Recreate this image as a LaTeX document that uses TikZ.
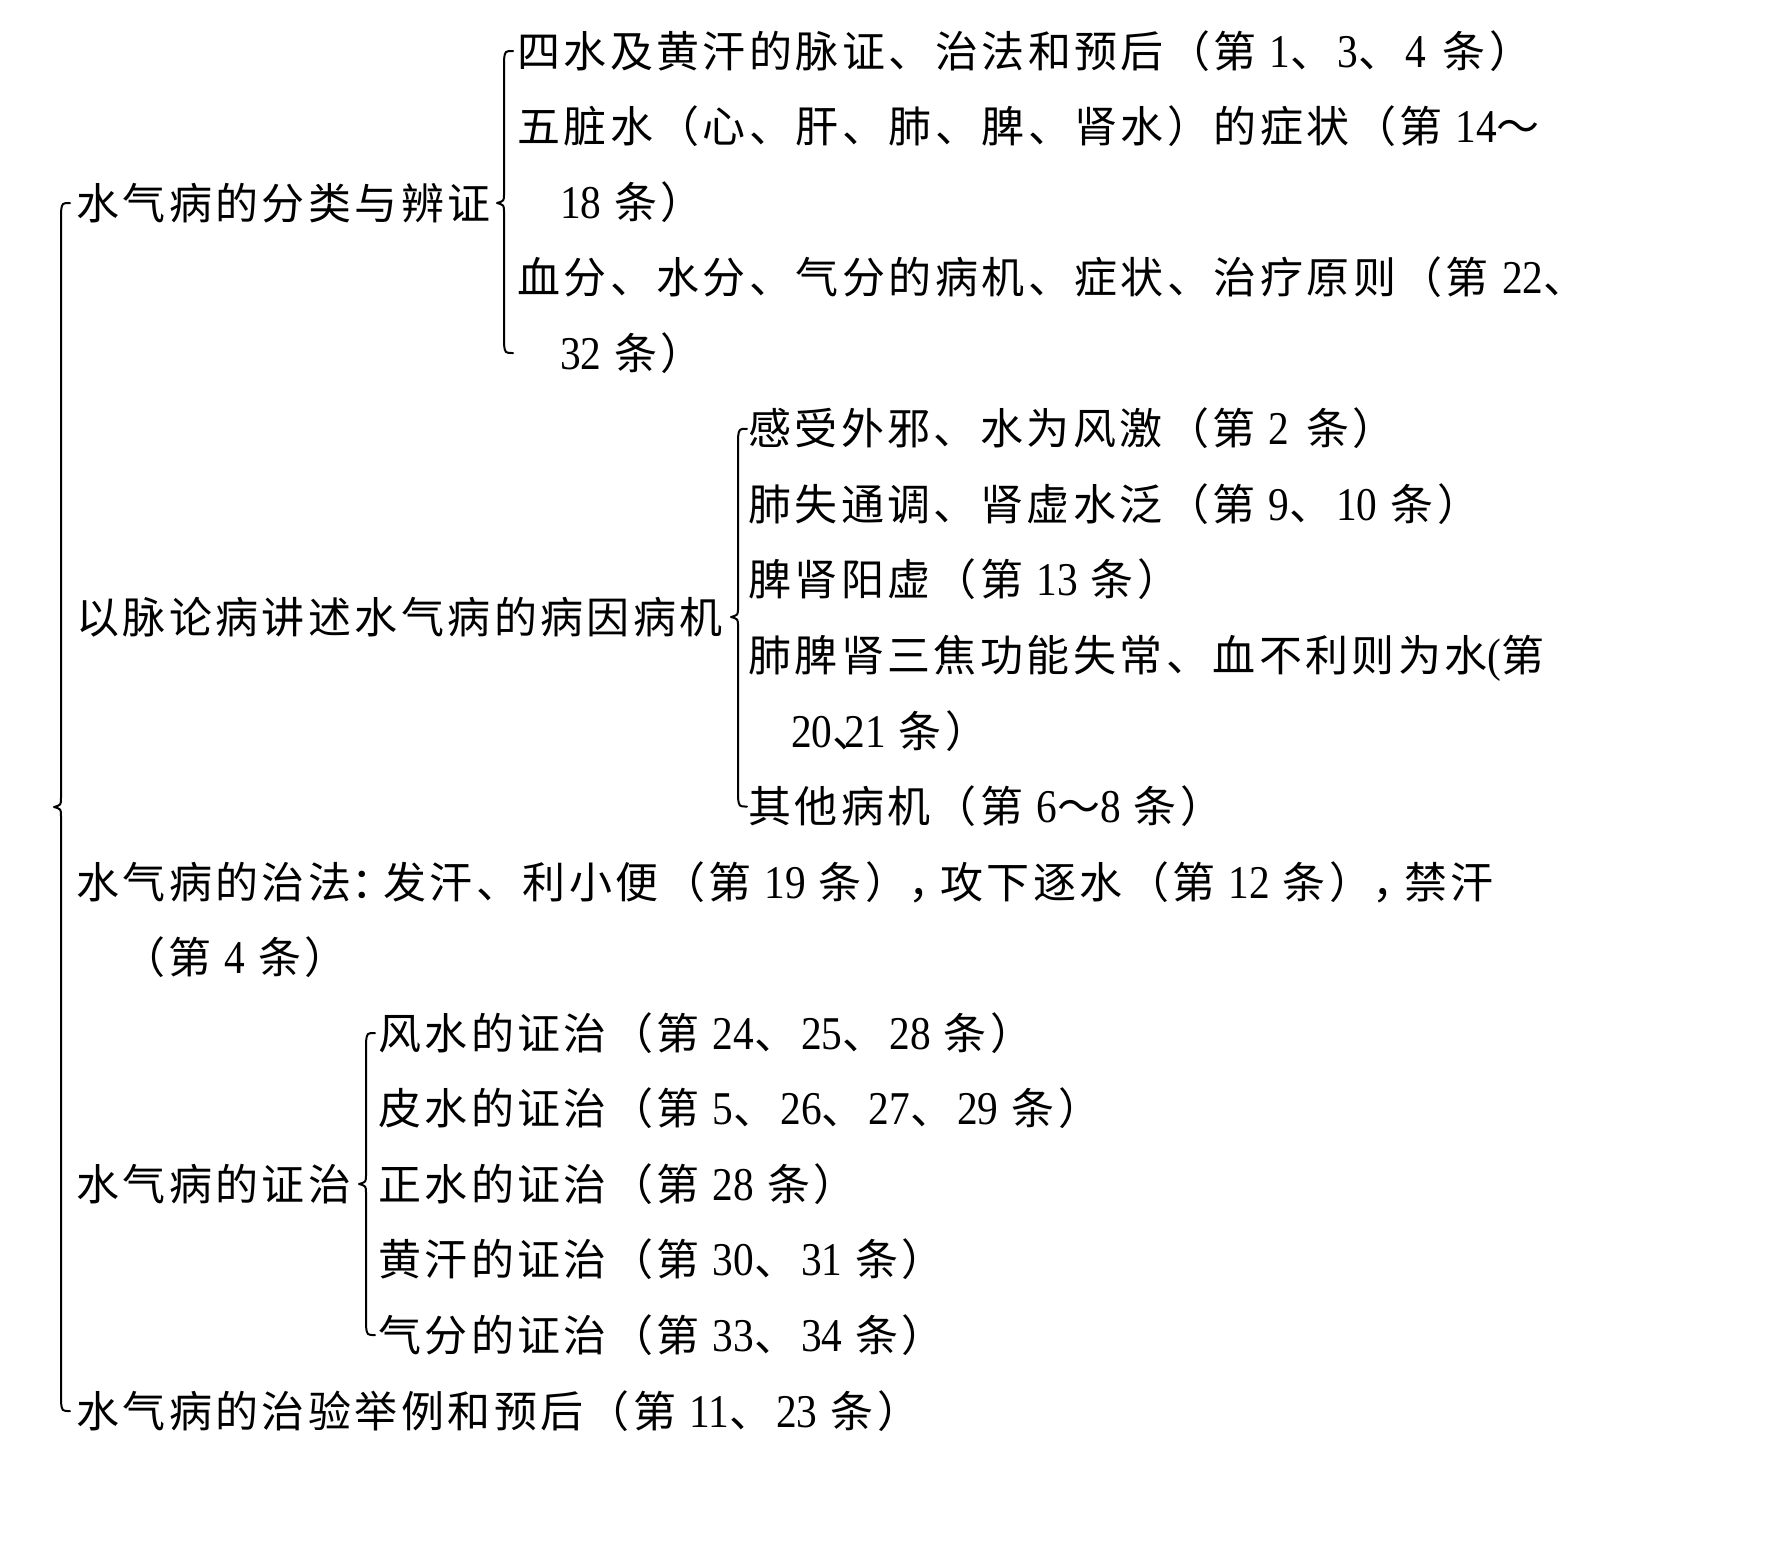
\documentclass[tikz,border=0pt]{standalone}
\usepackage{fontspec}
\newfontfamily\cjkfont[LetterSpace=8]{Noto Sans CJK SC}
\newfontfamily\digfont[FakeStretch=0.88]{Liberation Serif}
\newcommand\dnum[1]{{\digfont\fontsize{47}{48}\selectfont #1}}
\newcommand\gapa{\hspace{13pt}}
\newcommand\gapb{\hspace{13pt}}
\newcommand\gapc{\hspace{17pt}}
\newcommand\ds{、\hspace{4pt}}
\newcommand\hw[1]{\makebox[32pt][l]{#1}}
\usetikzlibrary{calc}
\tikzset{
  txt/.style={anchor=west, inner sep=0pt, text height=36pt, text depth=4pt,
    font=\cjkfont\fontsize{43}{48}\selectfont},
  bracestyle/.style={line width=2pt, line cap=round, line join=round}
}
\newcommand\curly[4]{%
\draw[bracestyle] let \p1=(#2.west), \p2=#3, \p3=(#4.west) in
 (\x1-#1+9,\y1) .. controls (\x1-#1+1,\y1) .. (\x1-#1,\y1-9)
 -- (\x1-#1,\y2+9) .. controls (\x1-#1,\y2+2) .. (\x1-#1-7,\y2)
 .. controls (\x1-#1,\y2-2) .. (\x1-#1,\y2-9)
 -- (\x1-#1,\y3+9) .. controls (\x1-#1+1,\y3) .. (\x1-#1+9,\y3);}
\begin{document}
\begin{tikzpicture}[x=1pt,y=-1pt]
\useasboundingbox[fill=white] (0,0) rectangle (1784,1548);
% level 1
\node[txt] (l1a) at (76,203) {水气病的分类与辨证};
\node[txt] (l1b) at (76,617) {以脉论病讲述水气病的病因病机};
\node[txt] (l1c) at (76,882) {水气病的治法\hw{：}发汗、利小便（第\gapa\dnum{19}\gapb 条）\hw{，}攻下逐水（第\gapa\dnum{12}\gapb 条）\hw{，}禁汗};
\node[txt] (l1c2) at (122,957.6) {（第\gapa\dnum{4}\gapb 条）};
\node[txt] (l1d) at (76,1184) {水气病的证治};
\node[txt] (l1e) at (76,1411) {水气病的治验举例和预后（第\gapa\dnum{11}\ds\dnum{23}\gapb 条）};
% branch 1
\node[txt] (b1a) at (517,51) {四水及黄汗的脉证、治法和预后（第\gapa\dnum{1}\ds\dnum{3}\ds\dnum{4}\gapc 条）};
\node[txt] (b1b) at (517,126.6) {五脏水（心、肝、肺、脾、肾水）的症状（第\gapa\dnum{14}～};
\node[txt] (b1b2) at (560,202) {\dnum{18}\gapb 条）};
\node[txt] (b1c) at (517,277.7) {血分、水分、气分的病机、症状、治疗原则（第\gapa\dnum{22}、};
\node[txt] (b1c2) at (560,353) {\dnum{32}\gapb 条）};
% branch 2
\node[txt] (b2a) at (748,428.8) {感受外邪、水为风激（第\gapa\dnum{2}\gapc 条）};
\node[txt] (b2b) at (748,504.3) {肺失通调、肾虚水泛（第\gapa\dnum{9}\ds\dnum{10}\gapb 条）};
\node[txt] (b2c) at (748,579.9) {脾肾阳虚（第\gapa\dnum{13}\gapb 条）};
\node[txt] (b2d) at (748,655.4) {肺脾肾三焦功能失常、血不利则为水\dnum{(}第};
\node[txt] (b2d2) at (791,731) {\dnum{20}\makebox[12pt][l]{、}\dnum{21}\gapb 条）};
\node[txt] (b2e) at (748,806.5) {其他病机（第\gapa\dnum{6}～\dnum{8}\gapb 条）};
% branch 3
\node[txt] (b3a) at (378,1033) {风水的证治（第\gapa\dnum{24}\ds\dnum{25}\ds\dnum{28}\gapb 条）};
\node[txt] (b3b) at (378,1108.7) {皮水的证治（第\gapa\dnum{5}\ds\dnum{26}\ds\dnum{27}\ds\dnum{29}\gapb 条）};
\node[txt] (b3c) at (378,1184) {正水的证治（第\gapa\dnum{28}\gapb 条）};
\node[txt] (b3d) at (378,1259.8) {黄汗的证治（第\gapa\dnum{30}\ds\dnum{31}\gapb 条）};
\node[txt] (b3e) at (378,1335) {气分的证治（第\gapa\dnum{33}\ds\dnum{34}\gapb 条）};
% braces
\coordinate (outermid) at ($(l1a.west)!0.5!(l1e.west)$);
\curly{15}{l1a}{(outermid)}{l1e}
\curly{13}{b1a}{(l1a.east)}{b1c2}
\curly{10}{b2a}{(l1b.east)}{b2e}
\curly{12}{b3a}{(l1d.east)}{b3e}
\end{tikzpicture}
\end{document}
